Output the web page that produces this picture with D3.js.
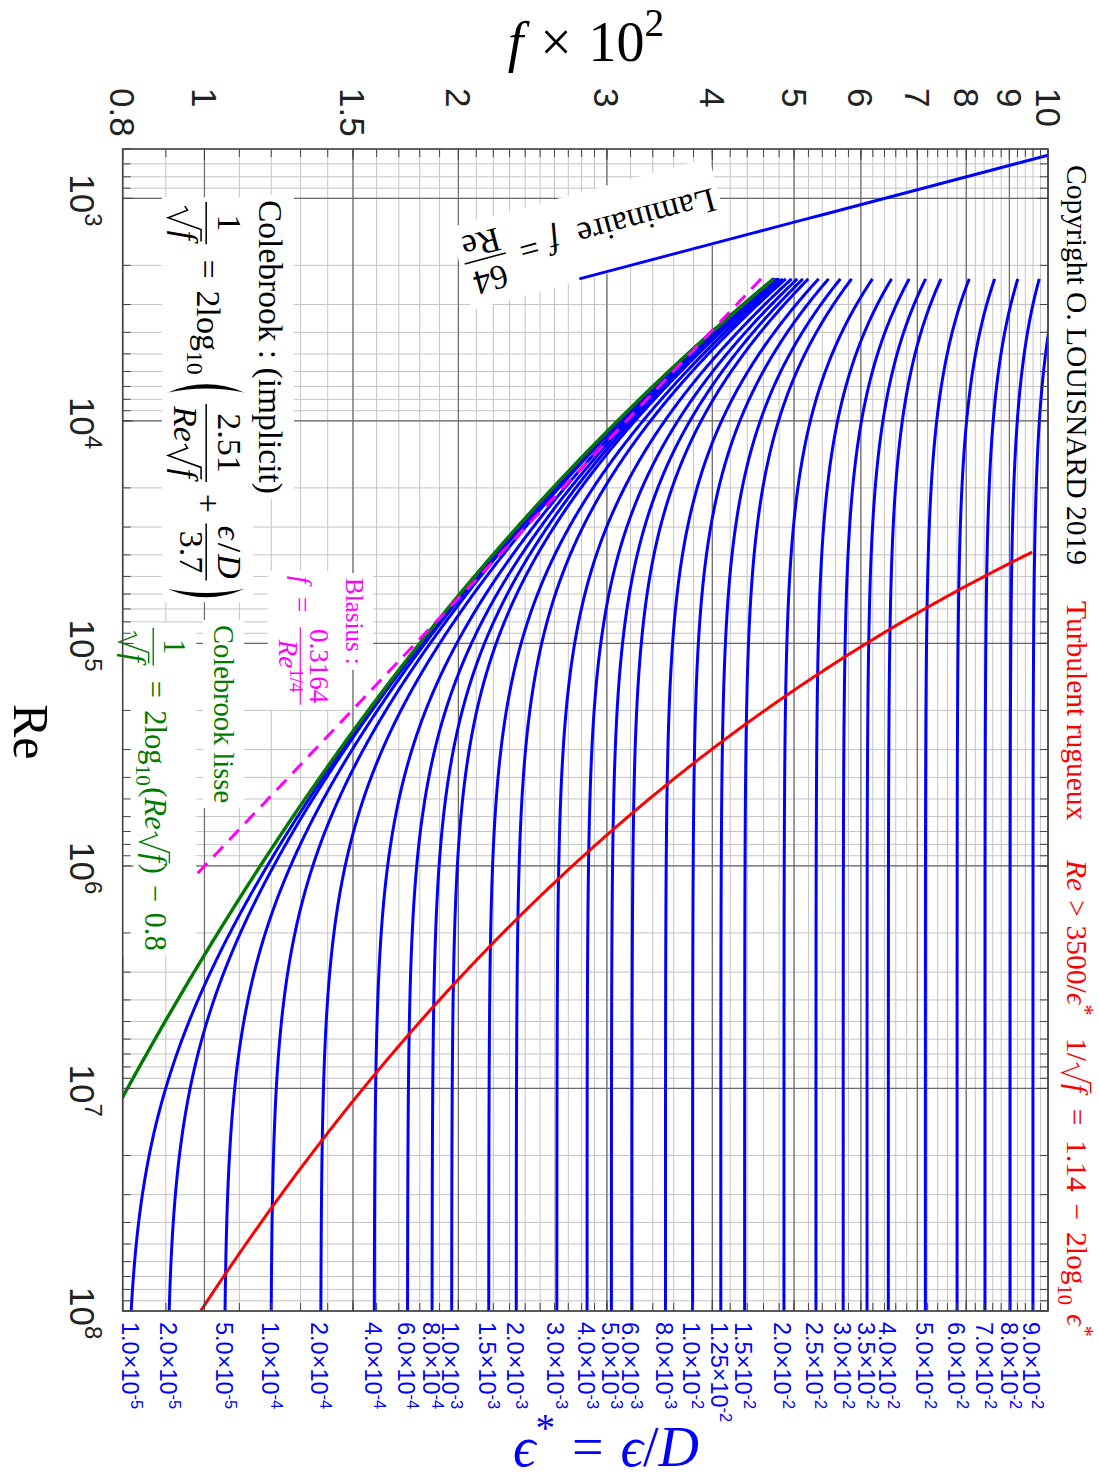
<!DOCTYPE html>
<html><head><meta charset="utf-8">
<script src="https://cdn.jsdelivr.net/npm/d3@7"></script>
<style>body{margin:0;background:#fff} svg{display:block}</style>
</head><body>
<svg id="c" width="1099" height="1482"></svg>
<script>
// ---------------- data ----------------
const EPS = [1.0e-5,2.0e-5,5.0e-5,1.0e-4,2.0e-4,4.0e-4,6.0e-4,8.0e-4,1.0e-3,1.5e-3,2.0e-3,3.0e-3,4.0e-3,5.0e-3,6.0e-3,8.0e-3,1.0e-2,1.25e-2,1.5e-2,2.0e-2,2.5e-2,3.0e-2,3.5e-2,4.0e-2,5.0e-2,6.0e-2,7.0e-2,8.0e-2,9.0e-2];
const EPS_MANT = ["1.0","2.0","5.0","1.0","2.0","4.0","6.0","8.0","1.0","1.5","2.0","3.0","4.0","5.0","6.0","8.0","1.0","1.25","1.5","2.0","2.5","3.0","3.5","4.0","5.0","6.0","7.0","8.0","9.0"];
const EPS_EXP  = ["-5","-5","-5","-4","-4","-4","-4","-4","-3","-3","-3","-3","-3","-3","-3","-3","-2","-2","-2","-2","-2","-2","-2","-2","-2","-2","-2","-2","-2"];
const F_TICKS = [0.8,1,1.5,2,3,4,5,6,7,8,9,10];          // f x 10^2
const F_TICK_LABELS = ["0.8","1","1.5","2","3","4","5","6","7","8","9","10"];
const RE_TICKS = [1e3,1e4,1e5,1e6,1e7,1e8];
const RE_TICK_EXP = ["3","4","5","6","7","8"];
const RE_DOMAIN = [600, 1e8];
const F_DOMAIN = [0.008, 0.1];
const RE_TRANSITION = 2300;           // end of laminar / start of turbulent curves
const LAMINAR = {c: 64};              // f = 64/Re
const BLASIUS = {a: 0.3164, n: 0.25}; // f = 0.3164/Re^(1/4)
const COLEBROOK = {a: 2.51, b: 3.7};  // 1/sqrt(f) = -2 log10(2.51/(Re sqrt f) + eps/3.7)
const SMOOTH = {c: 0.8};              // 1/sqrt(f) = 2 log10(Re sqrt f) - 0.8
const ROUGH = {a: 1.14, re: 3500, epsMax: 0.09}; // Re > 3500/eps, 1/sqrt f = 1.14 - 2 log10 eps

// ---------------- setup ----------------
const svg = d3.select('#c').attr('font-family','Liberation Serif, DejaVu Serif, serif');
const X0 = 122.7, X1 = 1048, Y0 = 149, Y1 = 1311;
const x = d3.scaleLog().domain(F_DOMAIN).range([X0, X1]);
const y = d3.scaleLog().domain(RE_DOMAIN).range([Y0, Y1]);
const BLUE = '#0000ff', GREEN = '#007a00', RED = '#ff0000', MAG = '#ff00ff';

svg.append('defs').append('clipPath').attr('id','clip')
  .append('rect').attr('x',X0).attr('y',Y0).attr('width',X1-X0).attr('height',Y1-Y0);

// grid
const fMinor = [...d3.range(8,30).map(v=>v/10), ...d3.range(15,51).map(v=>v/5)];
const reMinor = [];
for (let n=2;n<=7;n++) for (let k=1;k<=9;k++){const v=k*Math.pow(10,n); if(v>=RE_DOMAIN[0]&&v<=RE_DOMAIN[1]) reMinor.push(v);}
const grid = svg.append('g');
grid.selectAll('.vm').data(fMinor).join('line')
  .attr('x1',d=>x(d/100)).attr('x2',d=>x(d/100)).attr('y1',Y0).attr('y2',Y1)
  .attr('stroke','#c4c4c4').attr('stroke-width',1);
grid.selectAll('.hm').data(reMinor).join('line')
  .attr('y1',d=>y(d)).attr('y2',d=>y(d)).attr('x1',X0).attr('x2',X1)
  .attr('stroke','#c4c4c4').attr('stroke-width',1);
grid.selectAll('.vM').data(F_TICKS).join('line')
  .attr('x1',d=>x(d/100)).attr('x2',d=>x(d/100)).attr('y1',Y0).attr('y2',Y1)
  .attr('stroke','#6a6a6a').attr('stroke-width',1.2);
grid.selectAll('.hM').data(RE_TICKS).join('line')
  .attr('y1',d=>y(d)).attr('y2',d=>y(d)).attr('x1',X0).attr('x2',X1)
  .attr('stroke','#6a6a6a').attr('stroke-width',1.2);

// ---------------- curves ----------------
const N = 400;
const reSamples = d3.range(N+1).map(i => RE_TRANSITION*Math.pow(RE_DOMAIN[1]/RE_TRANSITION, i/N));
function colebrook(Re, eps){ let s=7; for(let k=0;k<80;k++) s = -2*Math.log10(eps/COLEBROOK.b + COLEBROOK.a*s/Re); return 1/(s*s); }
function smooth(Re){ let s=7; for(let k=0;k<80;k++) s = 2*Math.log10(Re/s) - SMOOTH.c; return 1/(s*s); }
const line = d3.line().x(d=>x(d[1])).y(d=>y(d[0]));
const curves = svg.append('g').attr('clip-path','url(#clip)').attr('fill','none');

curves.selectAll('.cb').data(EPS).join('path')
  .attr('d', e => line(reSamples.map(r => [r, colebrook(r,e)])))
  .attr('stroke',BLUE).attr('stroke-width',3);
curves.append('path').attr('d', line(reSamples.map(r=>[r, smooth(r)])))
  .attr('stroke',GREEN).attr('stroke-width',3.4);
const epsMin = ROUGH.re/RE_DOMAIN[1];
const epsSamples = d3.range(N+1).map(i => epsMin*Math.pow(ROUGH.epsMax/epsMin, i/N));
curves.append('path').attr('d', line(epsSamples.map(e => [ROUGH.re/e, Math.pow(ROUGH.a - 2*Math.log10(e), -2)])))
  .attr('stroke',RED).attr('stroke-width',3);
curves.append('path').attr('d', line(reSamples.map(r=>[r, BLASIUS.a*Math.pow(r,-BLASIUS.n)])))
  .attr('stroke',MAG).attr('stroke-width',3).attr('stroke-dasharray','14,9');

// ---------------- math layout helper ----------------
function mathRun(g, items, fs, color, x0, base){
  let xx = x0;
  for (let it of items){
    if (typeof it === 'string') it = {s:it};
    if (it.s !== undefined){
      const t = g.append('text').attr('x',xx).attr('y',base+(it.dy||0)*fs)
        .attr('font-size',fs*(it.k||1)).attr('fill',color).text(it.s);
      if (it.i) t.attr('font-style','italic');
      xx += t.node().getComputedTextLength() + (it.after||0)*fs;
    } else if (it.sp !== undefined){ xx += it.sp*fs; }
    else if (it.frac){
      const gn=g.append('g'), gd=g.append('g');
      const wn=mathRun(gn,it.frac[0],fs,color,0,0), wd=mathRun(gd,it.frac[1],fs,color,0,0);
      const w=Math.max(wn,wd)+0.24*fs, bar=base-0.27*fs;
      gn.attr('transform',`translate(${xx+(w-wn)/2},${bar-(it.nu||0.36)*fs})`);
      gd.attr('transform',`translate(${xx+(w-wd)/2},${bar+(it.de||0.78)*fs})`);
      g.append('line').attr('x1',xx+0.06*fs).attr('x2',xx+w-0.06*fs).attr('y1',bar).attr('y2',bar)
        .attr('stroke',color).attr('stroke-width',0.045*fs);
      xx += w+0.04*fs;
    } else if (it.sqrt){
      const gb=g.append('g');
      const wb=mathRun(gb,it.sqrt,fs,color,0,0);
      const r0=xx+0.06*fs, bx=xx+0.78*fs, top=base-(it.top||0.8)*fs;
      gb.attr('transform',`translate(${bx},${base})`);
      g.append('path').attr('d',`M${r0},${base-0.32*fs} L${r0+0.12*fs},${base-0.4*fs} L${r0+0.34*fs},${base+0.17*fs} L${bx-0.03*fs},${top} H${bx+wb+0.04*fs}`)
        .attr('fill','none').attr('stroke',color).attr('stroke-width',0.045*fs);
      xx = bx+wb+0.06*fs;
    } else if (it.paren){
      const ax=base-0.27*fs, yt=ax-it.h*fs, yb=ax+it.h*fs, w=(it.w||0.34)*fs;
      const d = it.paren==='('
        ? `M${xx+w},${yt} Q${xx-0.15*w},${ax} ${xx+w},${yb} Q${xx+0.45*w},${ax} ${xx+w},${yt} Z`
        : `M${xx},${yt} Q${xx+1.15*w},${ax} ${xx},${yb} Q${xx+0.55*w},${ax} ${xx},${yt} Z`;
      g.append('path').attr('d',d).attr('fill',color);
      xx += w+0.08*fs;
    }
  }
  return xx-x0;
}
function rotBlock(parent, ystart, xbase, items, fs, color){
  const g = parent.append('g').attr('transform',`rotate(90) translate(${ystart},${-xbase})`);
  mathRun(g, items, fs, color, 0, 0);
  return g;
}

const boxLayer = svg.append('g');
const lamLayer = svg.append('g').attr('clip-path','url(#clip)').attr('fill','none');
const textLayer = svg.append('g');
const boxed = [];
const sqrtF = {sqrt:[{s:'f',i:1}]};
const eps = {s:'\u03F5',i:1};

// laminar line (drawn above label boxes)
const reLam = d3.range(21).map(i => RE_DOMAIN[0]*Math.pow(RE_TRANSITION/RE_DOMAIN[0], i/20));
lamLayer.append('path').attr('d', line(reLam.map(r=>[r, LAMINAR.c/r])))
  .attr('stroke',BLUE).attr('stroke-width',3);

// Colebrook implicit
boxed.push(rotBlock(textLayer, 200, 259, ['Colebrook : (implicit)'], 33.5, '#000'));
boxed.push(rotBlock(textLayer, 200, 197, [
  {frac:[['1'],[sqrtF]], de:0.95}, {sp:0.35}, '=', {sp:0.35}, '2log', {s:'10',k:0.7,dy:0.3}, {sp:0.1},
  {paren:'(', h:1.12, w:0.42}, {sp:0.2},
  {frac:[['2.51'],[{s:'Re',i:1}, sqrtF]], de:0.95}, {sp:0.25}, '+', {sp:0.25},
  {frac:[[eps,{sp:0.1},'/',{sp:0.05},{s:'D',i:1}],['3.7']]}, {sp:0.15},
  {paren:')', h:1.12, w:0.42}
], 34, '#000'));
// Blasius
boxed.push(rotBlock(textLayer, 578, 346, ['Blasius :'], 25, MAG));
boxed.push(rotBlock(textLayer, 576, 293, [
  {s:'f',i:1}, {sp:0.5}, '=', {sp:0.5},
  {frac:[['0.3164'],[{s:'Re',i:1},{s:'1/4',k:0.7,dy:-0.42}]], de:0.8}
], 27, MAG));
// Colebrook smooth
boxed.push(rotBlock(textLayer, 625, 214, ['Colebrook lisse'], 28.5, GREEN));
boxed.push(rotBlock(textLayer, 626, 145, [
  {frac:[['1'],[sqrtF]], de:0.95}, {sp:0.4}, '=', {sp:0.4}, '2log', {s:'10',k:0.7,dy:0.3},
  {sp:0.05}, '(', {s:'Re',i:1}, sqrtF, ')', {sp:0.35}, '\u2212', {sp:0.35}, '0.8'
], 30.5, GREEN));
// Laminar label
{
  const g = textLayer.append('g').attr('transform','translate(712,188) rotate(165)');
  mathRun(g, ['Laminaire', {sp:0.55}, {s:'f',i:1}, {sp:0.35}, '=', {sp:0.35}, {frac:[['64'],['Re']], nu:0.3}], 34.5, '#000', 0, 0);
  boxed.push(g);
}
boxed.forEach(g => {
  const bb = g.node().getBBox(), p = 5;
  boxLayer.append('rect').attr('transform', g.attr('transform'))
    .attr('x',bb.x-p).attr('y',bb.y-p).attr('width',bb.width+2*p).attr('height',bb.height+2*p)
    .attr('fill','#fff');
});

// right side texts
rotBlock(textLayer, 165, 1067, ['Copyright O. LOUISNARD 2019'], 29.5, '#000');
rotBlock(textLayer, 601, 1067, ['Turbulent rugueux'], 29.5, RED);
rotBlock(textLayer, 860, 1067, [{s:'Re',i:1}, {sp:0.3}, '>', {sp:0.3}, '3500/', eps, {s:'*',k:0.75,dy:-0.38}], 29.5, RED);
rotBlock(textLayer, 1038, 1067, ['1/', sqrtF, {sp:0.5}, '=', {sp:0.5}, '1.14', {sp:0.4}, '\u2212', {sp:0.4},
  '2log', {s:'10',k:0.7,dy:0.3}, {sp:0.3}, eps, {s:'*',k:0.75,dy:-0.38}], 29.5, RED);

// titles
{
  const g = textLayer.append('g');
  const w = mathRun(g, [{s:'f',i:1}, {sp:0.3}, '\u00D7', {sp:0.3}, '10', {s:'2',k:0.7,dy:-0.45}], 56, '#000', 0, 0);
  g.attr('transform',`translate(${586-w/2},61)`);
}
{
  const g = textLayer.append('g');
  const w = mathRun(g, [eps, {s:'*',k:0.7,dy:-0.45}, {sp:0.3}, '=', {sp:0.3}, eps, '/', {s:'D',i:1}], 56, BLUE, 0, 0);
  g.attr('transform',`translate(${606-w/2},1466)`);
}
rotBlock(textLayer, 704, 14, ['Re'], 50, '#000');

// ---------------- axes: frame, ticks, tick labels ----------------
const axes = svg.append('g').attr('stroke','#444');
const tl = 8, tL = 11;
fMinor.forEach(v => { const xx = x(v/100);
  axes.append('line').attr('x1',xx).attr('x2',xx).attr('y1',Y0).attr('y2',Y0+tl);
  axes.append('line').attr('x1',xx).attr('x2',xx).attr('y1',Y1).attr('y2',Y1-tl); });
F_TICKS.forEach(v => { const xx = x(v/100);
  axes.append('line').attr('x1',xx).attr('x2',xx).attr('y1',Y0).attr('y2',Y0+tL);
  axes.append('line').attr('x1',xx).attr('x2',xx).attr('y1',Y1).attr('y2',Y1-tL); });
reMinor.forEach(v => { const yy = y(v);
  axes.append('line').attr('y1',yy).attr('y2',yy).attr('x1',X0).attr('x2',X0+tl);
  axes.append('line').attr('y1',yy).attr('y2',yy).attr('x1',X1).attr('x2',X1-tl); });
RE_TICKS.forEach(v => { const yy = y(v);
  axes.append('line').attr('y1',yy).attr('y2',yy).attr('x1',X0).attr('x2',X0+tL);
  axes.append('line').attr('y1',yy).attr('y2',yy).attr('x1',X1).attr('x2',X1-tL); });
axes.append('rect').attr('x',X0).attr('y',Y0).attr('width',X1-X0).attr('height',Y1-Y0)
  .attr('fill','none').attr('stroke-width',1.6);

const lab = svg.append('g').attr('font-family','Liberation Sans, Arial, sans-serif');
function placeRot(g, ystart, xc){
  const bb = g.node().getBBox();
  g.attr('transform',`rotate(90) translate(${ystart},${-xc - bb.y - bb.height/2})`);
}
F_TICKS.forEach((v,i) => {
  const g = lab.append('g');
  g.append('text').attr('font-size',35).attr('fill','#222').text(F_TICK_LABELS[i]);
  placeRot(g, 88, x(v/100));
});
RE_TICKS.forEach((v,i) => {
  const g = lab.append('g');
  const t = g.append('text').attr('font-size',35).attr('fill','#222');
  t.append('tspan').text('10');
  t.append('tspan').attr('font-size',24).attr('dy',-15).text(RE_TICK_EXP[i]);
  placeRot(g, y(v)-24, 85);
});
EPS.forEach((e,i) => {
  const g = lab.append('g');
  const t = g.append('text').attr('font-size',23.5).attr('fill',BLUE);
  t.append('tspan').text(EPS_MANT[i] + '\u00D710');
  t.append('tspan').attr('font-size',16.5).attr('dy',-9).text(EPS_EXP[i]);
  placeRot(g, 1322, x(colebrook(RE_DOMAIN[1], e)));
});
</script>
</body></html>
